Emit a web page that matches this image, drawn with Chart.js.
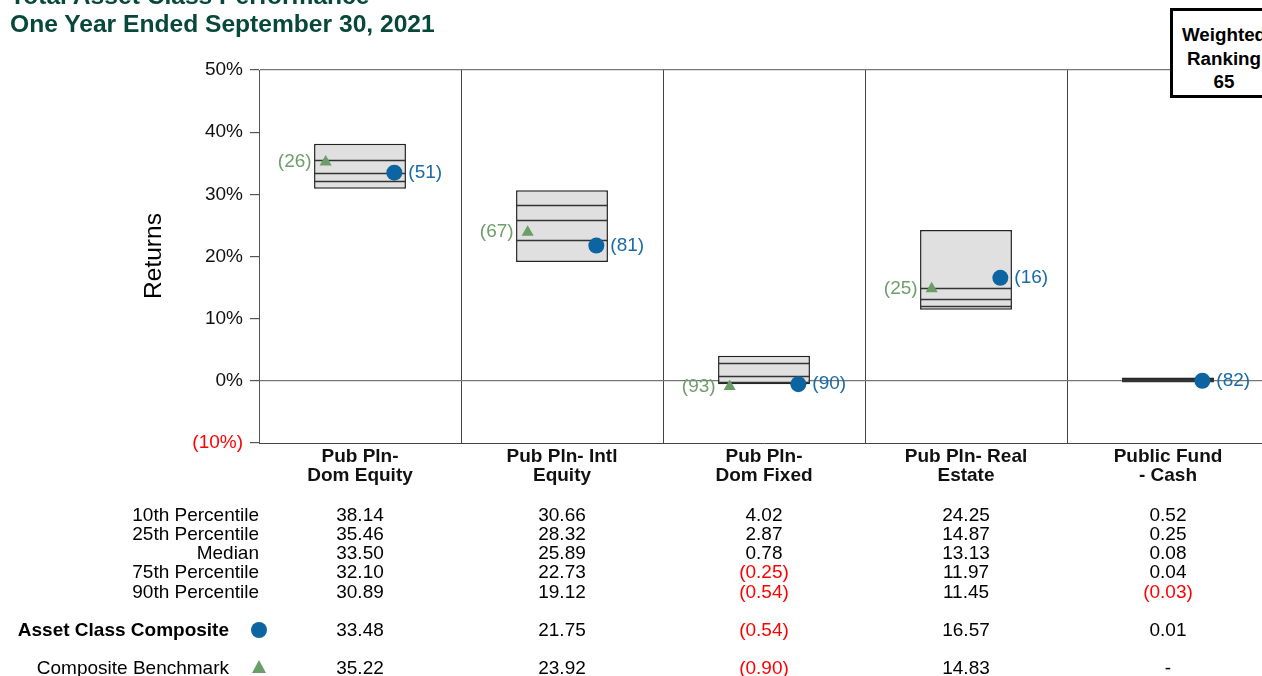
<!DOCTYPE html>
<html>
<head>
<meta charset="utf-8">
<script src="https://cdn.jsdelivr.net/npm/chart.js@4"></script>
<style>
  html, body { margin: 0; padding: 0; background: #fff; overflow: hidden; width: 1262px; height: 676px; }
  #wrap { position: absolute; left: 0; top: 0; width: 1277px; height: 676px; }
  .title { position: absolute; left: 10px; top: -18px; font: bold 24.6px Arial, "Liberation Sans", sans-serif; line-height: 28px; color: #07483a; white-space: nowrap; }
  .rank { position: absolute; left: 1170px; top: 8px; width: 108px; height: 90px; box-sizing: border-box; border: 3px solid #000; background: #fff;
          font: bold 18.8px Arial, "Liberation Sans", sans-serif; line-height: 23.5px; text-align: center; padding-top: 12px; white-space: nowrap; }
</style>
</head>
<body>
<div id="wrap"><canvas id="chart" width="1277" height="676"></canvas></div>
<div class="title">Total Asset Class Performance<br>One Year Ended September 30, 2021</div>
<div class="rank">Weighted<br>Ranking<br>65</div>
<script>
// --- datos ---
const categories = [['Pub Pln-', 'Dom Equity'], ['Pub Pln- Intl', 'Equity'], ['Pub Pln-', 'Dom Fixed'], ['Pub Pln- Real', 'Estate'], ['Public Fund', '- Cash']];
const p10 = [38.14, 30.66, 4.02, 24.25, 0.52];
const p25 = [35.46, 28.32, 2.87, 14.87, 0.25];
const median = [33.50, 25.89, 0.78, 13.13, 0.08];
const p75 = [32.10, 22.73, -0.25, 11.97, 0.04];
const p90 = [30.89, 19.12, -0.54, 11.45, -0.03];
const composite = [33.48, 21.75, -0.54, 16.57, 0.01];
const benchmark = [35.22, 23.92, -0.90, 14.83, null];
const compositeRank = [51, 81, 90, 16, 82];
const benchmarkRank = [26, 67, 93, 25, null];
const yTicks = [-10, 0, 10, 20, 30, 40, 50];
const rowLabels = ['10th Percentile', '25th Percentile', 'Median', '75th Percentile', '90th Percentile'];

const FONT = 'Arial, "Liberation Sans", sans-serif';
const BLUE = '#0c64a0';
const GREEN = '#6b9d67';
const RED = '#ff0000';

function fmt(v) {
  if (v === null) return '-';
  return v < 0 ? '(' + Math.abs(v).toFixed(2) + ')' : v.toFixed(2);
}

// lineas de percentiles dentro de las cajas
const percentileLines = {
  id: 'percentileLines',
  afterDatasetDraw(chart, args) {
    if (args.index !== 2) return;
    const ctx = chart.ctx;
    const y = chart.scales.y;
    ctx.save();
    ctx.strokeStyle = '#333';
    ctx.lineWidth = 1.3;
    args.meta.data.forEach((bar, i) => {
      const half = bar.width / 2;
      [p25[i], median[i], p75[i]].forEach(v => {
        const py = Math.round(y.getPixelForValue(v)) + 0.5;
        ctx.beginPath();
        ctx.moveTo(bar.x - half, py);
        ctx.lineTo(bar.x + half, py);
        ctx.stroke();
      });
    });
    ctx.restore();
  }
};

// etiquetas de ranking y tabla inferior
const extras = {
  id: 'extras',
  afterDraw(chart) {
    const ctx = chart.ctx;
    const x = chart.scales.x;
    ctx.save();
    // rankings junto a los puntos
    ctx.font = '19px ' + FONT;
    ctx.textBaseline = 'middle';
    chart.getDatasetMeta(0).data.forEach((pt, i) => {
      if (compositeRank[i] === null) return;
      ctx.fillStyle = '#1a6aa8';
      ctx.textAlign = 'left';
      ctx.fillText('(' + compositeRank[i] + ')', pt.x + 14, pt.y);
    });
    chart.getDatasetMeta(1).data.forEach((pt, i) => {
      if (benchmarkRank[i] === null || benchmark[i] === null) return;
      ctx.fillStyle = '#6f9f6a';
      ctx.textAlign = 'right';
      ctx.fillText('(' + benchmarkRank[i] + ')', pt.x - 14, pt.y);
    });

    // titulo del eje
    ctx.save();
    ctx.translate(154, 256);
    ctx.rotate(-Math.PI / 2);
    ctx.textAlign = 'center';
    ctx.fillStyle = '#000';
    ctx.font = '24.5px ' + FONT;
    ctx.fillText('Returns', 0, 0);
    ctx.restore();

    // tabla
    ctx.font = '19px ' + FONT;
    const rows = [p10, p25, median, p75, p90];
    rows.forEach((arr, r) => {
      const ry = 515.5 + r * 19.2;
      ctx.fillStyle = '#000';
      ctx.textAlign = 'right';
      ctx.fillText(rowLabels[r], 259, ry);
      ctx.textAlign = 'center';
      arr.forEach((v, i) => {
        ctx.fillStyle = v < 0 ? RED : '#000';
        ctx.fillText(fmt(v), x.getPixelForValue(i), ry);
      });
    });
    ctx.textAlign = 'right';
    ctx.fillStyle = '#000';
    ctx.font = 'bold 19px ' + FONT;
    ctx.fillText('Asset Class Composite', 229, 630.5);
    ctx.font = '19px ' + FONT;
    ctx.fillText('Composite Benchmark', 229, 668.5);
    ctx.textAlign = 'center';
    composite.forEach((v, i) => {
      ctx.fillStyle = v < 0 ? RED : '#000';
      ctx.fillText(fmt(v), x.getPixelForValue(i), 630.5);
    });
    benchmark.forEach((v, i) => {
      ctx.fillStyle = v !== null && v < 0 ? RED : '#000';
      ctx.fillText(fmt(v), x.getPixelForValue(i), 668.5);
    });
    // marcadores de la leyenda
    ctx.fillStyle = BLUE;
    ctx.beginPath();
    ctx.arc(259, 630, 8, 0, Math.PI * 2);
    ctx.fill();
    ctx.fillStyle = GREEN;
    ctx.beginPath();
    ctx.moveTo(259, 660);
    ctx.lineTo(266, 673);
    ctx.lineTo(252, 673);
    ctx.closePath();
    ctx.fill();
    ctx.restore();
  }
};

const idx = categories.map((c, i) => i);

new Chart(document.getElementById('chart'), {
  type: 'bar',
  data: {
    labels: categories,
    datasets: [
      {
        type: 'scatter',
        label: 'Asset Class Composite',
        xAxisID: 'xp',
        data: idx.map(i => ({ x: i + 0.17, y: composite[i] })),
        pointStyle: 'circle',
        pointRadius: 8,
        backgroundColor: BLUE,
        borderColor: BLUE,
        borderWidth: 0,
        order: 1
      },
      {
        type: 'scatter',
        label: 'Composite Benchmark',
        xAxisID: 'xp',
        data: idx.filter(i => benchmark[i] !== null).map(i => ({ x: i - 0.17, y: benchmark[i] })),
        pointStyle: 'triangle',
        pointRadius: 7,
        backgroundColor: GREEN,
        borderColor: GREEN,
        borderWidth: 0,
        order: 1
      },
      {
        label: 'Range',
        data: idx.map(i => [p90[i], p10[i]]),
        backgroundColor: '#e0e0e0',
        borderColor: '#222',
        borderWidth: 1.5,
        borderSkipped: false,
        grouped: false,
        barPercentage: 0.455,
        categoryPercentage: 1,
        order: 2
      }
    ]
  },
  options: {
    responsive: false,
    animation: false,
    layout: { padding: { top: 70, left: 0, right: 3, bottom: 0 } },
    plugins: { legend: { display: false }, tooltip: { enabled: false } },
    scales: {
      x: {
        grid: { offset: true, color: '#444', lineWidth: 1, drawTicks: false },
        border: { color: '#444' },
        ticks: { color: '#111', font: { family: FONT, size: 19, weight: 'bold', lineHeight: 1.0 }, padding: 4, maxRotation: 0, autoSkip: false },
        afterFit(s) { s.height = 233; }
      },
      xp: {
        type: 'linear',
        display: false,
        offset: false,
        grid: { offset: false },
        min: -0.5,
        max: 4.5
      },
      y: {
        min: -10,
        max: 50,
        afterBuildTicks(s) { s.ticks = yTicks.map(v => ({ value: v })); },
        grid: {
          color: c => (c.tick && (c.tick.value === 0 || c.tick.value === 50)) ? '#777' : 'rgba(0,0,0,0)',
          tickColor: '#555',
          tickLength: 9,
          lineWidth: 1.2
        },
        border: { color: '#555' },
        ticks: {
          font: { family: FONT, size: 19 },
          padding: 7,
          color: c => c.tick.value < 0 ? RED : '#111',
          callback: v => v < 0 ? '(' + Math.abs(v) + '%)' : v + '%'
        },
        afterFit(s) { s.width = 259; }
      }
    }
  },
  plugins: [percentileLines, extras]
});
</script>
</body>
</html>
